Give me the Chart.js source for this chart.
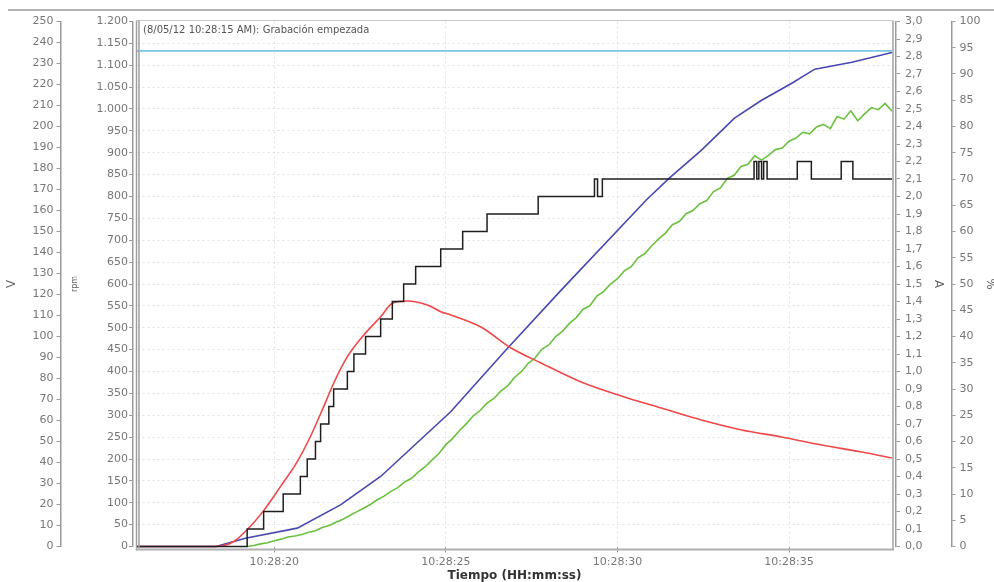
<!DOCTYPE html>
<html>
<head>
<meta charset="utf-8">
<script src="https://cdn.jsdelivr.net/npm/chart.js@4.4.1/dist/chart.umd.min.js"></script>
<style>
  html, body { margin: 0; padding: 0; background: #fff; }
  #wrap { position: relative; width: 994px; height: 582px; }
  canvas { display: block; }
</style>
</head>
<body>
<div id="wrap"><canvas id="c" width="994" height="582"></canvas></div>
<script>
// Log of a motor start-up, times in seconds after 10:28:00
const startNote = '(8/05/12 10:28:15 AM): Grabación empezada';
const timeTickValues = [20, 25, 30, 35];
const timeTickLabels = ['10:28:20', '10:28:25', '10:28:30', '10:28:35'];

// supply voltage (V)
const cyanTimes = [16, 38];
const cyanVolts = [236, 236];

// current (A)
const redTimes = [16, 18.3, 18.81, 19.25, 19.69, 20.18, 20.67, 21.05, 21.44, 21.73, 22.13, 22.61, 23.10, 23.44,
  23.88, 24.46, 24.85, 25.14, 26.02, 26.90, 27.77, 28.94, 30.11, 31.28, 32.45, 33.62, 34.78, 35.95, 37.12, 38.0];
const redAmps = [0, 0, 0.027, 0.104, 0.205, 0.342, 0.485, 0.627, 0.799, 0.933, 1.085, 1.209, 1.313, 1.390,
  1.403, 1.380, 1.342, 1.323, 1.254, 1.134, 1.049, 0.940, 0.860, 0.791, 0.723, 0.666, 0.626, 0.580, 0.540, 0.506];

// current reference ramp (A)
const blackTimes = [16, 19.21, 19.69, 20.26, 20.76, 20.96, 21.20, 21.35, 21.59, 21.73, 22.13, 22.32, 22.66, 23.10,
  23.44, 23.77, 24.12, 24.85, 25.49, 26.20, 27.69, 29.33, 29.42, 29.56, 33.98, 34.06, 34.12, 34.20, 34.26, 34.36,
  35.24, 35.65, 36.52, 36.86, 38.0];
const blackAmps = [0, 0.1, 0.2, 0.3, 0.4, 0.5, 0.6, 0.7, 0.8, 0.9, 1.0, 1.1, 1.2, 1.3,
  1.4, 1.5, 1.6, 1.7, 1.8, 1.9, 2.0, 2.1, 2.0, 2.1, 2.2, 2.1, 2.2, 2.1, 2.2, 2.1,
  2.2, 2.1, 2.2, 2.1, 2.1];

// motor speed (rpm)
const blueTimes = [16, 18.3, 19.16, 20.67, 21.93, 23.10, 25.14, 26.75, 28.36, 30.84, 31.51, 32.45, 33.41, 34.20,
  35.08, 35.75, 36.83, 38.0];
const blueRpm = [0, 0, 19, 42, 95, 160, 308, 449, 586, 792, 842, 906, 979, 1020, 1059, 1091, 1107, 1129];

// load (%)
const greenTimes = [19.2, 19.4, 19.6, 19.8, 20.0, 20.2, 20.4, 20.6, 20.8, 21.0, 21.2, 21.4, 21.6, 21.8, 22.0,
  22.2, 22.4, 22.6, 22.8, 23.0, 23.2, 23.4, 23.6, 23.8, 24.0, 24.2, 24.4, 24.6, 24.8, 25.0, 25.2, 25.4, 25.6,
  25.8, 26.0, 26.2, 26.4, 26.6, 26.8, 27.0, 27.2, 27.4, 27.6, 27.8, 28.0, 28.2, 28.4, 28.6, 28.8, 29.0, 29.2,
  29.4, 29.6, 29.8, 30.0, 30.2, 30.4, 30.6, 30.8, 31.0, 31.2, 31.4, 31.6, 31.8, 32.0, 32.2, 32.4, 32.6, 32.8,
  33.0, 33.2, 33.4, 33.6, 33.8, 34.0, 34.2, 34.4, 34.6, 34.8, 35.0, 35.2, 35.4, 35.6, 35.8, 36.0, 36.2, 36.4,
  36.6, 36.8, 37.0, 37.2, 37.4, 37.6, 37.8, 38.0];
const greenPct = [0.0, 0.2, 0.5, 0.7, 1.1, 1.4, 1.8, 2.0, 2.3, 2.7, 3.0, 3.6, 4.0, 4.6, 5.2,
  5.9, 6.6, 7.3, 8.0, 8.9, 9.6, 10.5, 11.2, 12.3, 13.0, 14.2, 15.2, 16.5, 17.7, 19.4, 20.6, 22.1, 23.4,
  24.9, 25.9, 27.3, 28.2, 29.6, 30.6, 32.2, 33.3, 34.9, 35.9, 37.6, 38.4, 40.0, 41.0, 42.5, 43.6, 45.2, 45.9,
  47.7, 48.6, 50.0, 51.0, 52.5, 53.3, 55.0, 55.8, 57.3, 58.6, 59.7, 61.3, 61.9, 63.4, 64.0, 65.3, 65.9, 67.6,
  68.3, 70.1, 70.7, 72.4, 72.8, 74.4, 73.6, 74.5, 75.6, 75.9, 77.2, 77.8, 78.9, 78.6, 79.9, 80.4, 79.6, 81.9,
  81.4, 83.0, 81.1, 82.4, 83.6, 83.2, 84.4, 82.9];

const pts = (xs, ys) => xs.map((x, i) => ({ x: x, y: ys[i] }));

const FONT = '"DejaVu Sans", Verdana, sans-serif';
const tickFont = { family: FONT, size: 11 };
const tickGrey = '#777';
const axisGrey = '#9a9a9a';

function fixedWidth(w) {
  return function (scale) { scale.width = w; scale.paddingTop = 0; scale.paddingBottom = 0; };
}

function sideAxis(pos, min, max, step, weight, width, fmt, title, titleSize, titlePad, labelPad) {
  return {
    type: 'linear', position: pos, min: min, max: max, weight: weight,
    afterFit: fixedWidth(width),
    ticks: { stepSize: step, autoSkip: false, font: tickFont, color: tickGrey, padding: labelPad,
      callback: fmt },
    grid: { drawOnChartArea: false, tickLength: 4, tickColor: axisGrey, tickWidth: 1 },
    border: { display: true, color: axisGrey, width: 1.5 },
    title: { display: true, text: title, color: '#666',
      font: { family: FONT, size: titleSize }, padding: { top: titlePad, bottom: 0 } }
  };
}

const spacer = (pos, weight) => ({
  type: 'linear', position: pos, min: 0, max: 1, weight: weight,
  afterFit: fixedWidth(4),
  ticks: { display: false }, grid: { display: false }, border: { display: false }
});

const rpmAxis = sideAxis('left', 0, 1200, 50, 2, 72.5,
  v => v >= 1000 ? Math.floor(v / 1000) + '.' + String(v % 1000).padStart(3, '0') : String(v),
  'rpm', 8, 9.5, 1);
rpmAxis.grid.drawOnChartArea = true;
rpmAxis.grid.color = ctx => (ctx.tick && (ctx.tick.value === 0 || ctx.tick.value === 1200)) ? 'rgba(0,0,0,0)' : 'rgba(150,150,150,0.28)';
rpmAxis.border.dash = [2, 3];

// frame round the plot and the start note
const framePlugin = {
  id: 'frame',
  afterDraw(chart) {
    const { ctx, chartArea: a } = chart;
    ctx.save();
    ctx.strokeStyle = '#b4b4b4';
    ctx.lineWidth = 2;
    ctx.beginPath(); ctx.moveTo(8, 10); ctx.lineTo(994, 10); ctx.stroke();
    ctx.strokeStyle = '#c8c8c8';
    ctx.lineWidth = 1;
    ctx.beginPath(); ctx.moveTo(a.left, a.top - 1); ctx.lineTo(a.right, a.top - 1); ctx.stroke();
    ctx.strokeStyle = '#a0a0a0';
    ctx.lineWidth = 1.5;
    ctx.beginPath(); ctx.moveTo(a.left - 0.5, a.top - 1); ctx.lineTo(a.left - 0.5, a.bottom + 4); ctx.stroke();
    ctx.beginPath(); ctx.moveTo(a.left + 2, a.top - 1); ctx.lineTo(a.left + 2, a.bottom + 2); ctx.stroke();
    ctx.beginPath(); ctx.moveTo(a.right + 1, a.top - 1); ctx.lineTo(a.right + 1, a.bottom + 4); ctx.stroke();
    ctx.strokeStyle = '#b0b0b0';
    ctx.lineWidth = 2;
    ctx.beginPath(); ctx.moveTo(a.left - 1, a.bottom + 3); ctx.lineTo(a.right + 2, a.bottom + 3); ctx.stroke();
    ctx.fillStyle = '#555';
    ctx.font = '10px ' + FONT;
    ctx.textBaseline = 'middle';
    ctx.fillText(startNote, a.left + 6, 30);
    ctx.restore();
  }
};

new Chart(document.getElementById('c'), {
  type: 'line',
  data: {
    datasets: [
      { label: 'ref A', data: pts(blackTimes, blackAmps), yAxisID: 'yA', stepped: true,
        borderColor: '#1e1e1e', borderWidth: 1.5 },
      { label: 'A', data: pts(redTimes, redAmps), yAxisID: 'yA', cubicInterpolationMode: 'monotone',
        borderColor: '#f04848', borderWidth: 1.6 },
      { label: '%', data: pts(greenTimes, greenPct), yAxisID: 'yPct',
        borderColor: '#6cc040', borderWidth: 1.6 },
      { label: 'rpm', data: pts(blueTimes, blueRpm), yAxisID: 'yRpm',
        borderColor: '#4848b0', borderWidth: 1.6 },
      { label: 'V', data: pts(cyanTimes, cyanVolts), yAxisID: 'yV',
        borderColor: '#78c8e0', borderWidth: 1.6 }
    ]
  },
  options: {
    responsive: false,
    animation: false,
    devicePixelRatio: 1,
    layout: { padding: { top: 21.5, left: 0, right: 0, bottom: 0 } },
    datasets: { line: { pointRadius: 0, tension: 0, fill: false, clip: 3 } },
    plugins: { legend: { display: false }, tooltip: { enabled: false } },
    scales: {
      x: {
        type: 'linear', position: 'bottom', min: 16, max: 38,
        afterFit: function (scale) { scale.height = 35.5; scale.paddingLeft = 0; scale.paddingRight = 0; },
        afterBuildTicks: function (scale) { scale.ticks = timeTickValues.map(v => ({ value: v })); },
        ticks: { font: tickFont, color: tickGrey, padding: 3, maxRotation: 0, autoSkip: false,
          callback: v => timeTickLabels[timeTickValues.indexOf(v)] },
        grid: { drawOnChartArea: true, color: 'rgba(150,150,150,0.28)', tickLength: 6,
          tickColor: axisGrey },
        border: { display: false, dash: [2, 3] },
        title: { display: true, text: 'Tiempo (HH:mm:ss)', color: '#333',
          font: { family: FONT, size: 12, weight: 'bold', lineHeight: 1 }, padding: { top: 0, bottom: 0 } }
      },
      yV: sideAxis('left', 0, 250, 10, 3, 60.5, v => String(v), 'V', 12, 5, 3),
      yRpm: rpmAxis,
      padL: spacer('left', 1),
      padR: spacer('right', 0),
      yA: sideAxis('right', 0, 3, 0.1, 1, 55.5, v => v.toFixed(1).replace('.', ','), 'A', 12, 6, 5),
      yPct: sideAxis('right', 0, 100, 5, 2, 42.5, v => String(Math.round(v)), '%', 12, -3.5, 4)
    }
  },
  plugins: [framePlugin]
});
</script>
</body>
</html>
